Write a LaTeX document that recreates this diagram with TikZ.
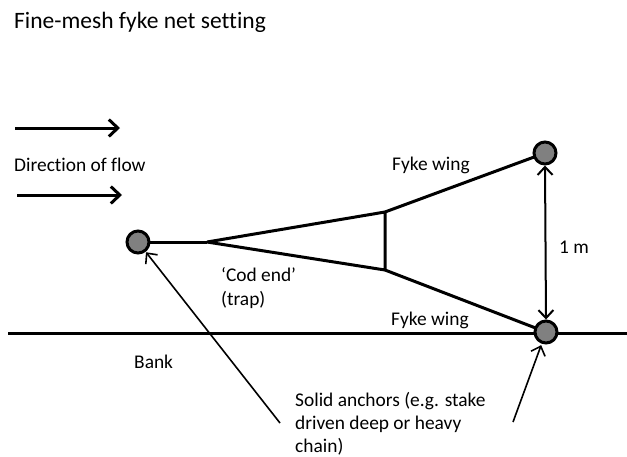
\documentclass[tikz,border=0pt]{standalone}
\usepackage{fontspec}
\setmainfont[Ligatures=NoCommon]{Carlito}
\usetikzlibrary{arrows.meta,backgrounds}
\tikzset{
  thick line/.style={line width=3pt},
  flow arrow/.style={line width=3pt,-{Straight Barb[length=9pt,width=17pt,line width=3pt]}},
  pointer/.style={line width=1.6pt,-{Straight Barb[length=8pt,width=15pt,line width=1.6pt]}},
  span arrow/.style={line width=2pt,{Straight Barb[length=8pt,width=15pt,line width=2pt]}-{Straight Barb[length=8pt,width=15pt,line width=2pt]}},
  anchorpt/.style={circle,draw,line width=3pt,fill=black!50,minimum size=22pt,inner sep=0pt},
  label text/.style={font=\fontsize{19.4}{23}\selectfont,anchor=mid west,inner sep=0pt},
}
\begin{document}
\begin{tikzpicture}[x=1pt,y=-1pt]
\useasboundingbox (0,0) rectangle (627,456);

% title
\node[font=\fontsize{23.5}{28}\selectfont,anchor=base west,inner sep=0pt] (title) at (14,28) {Fine-mesh fyke net setting};

% flow direction
\coordinate (f1a) at (15,128);
\coordinate (f1b) at (120,128);
\coordinate (f2a) at (17,195);
\coordinate (f2b) at (122,195);
\draw[flow arrow] (f1a) -- (f1b);
\draw[flow arrow] (f2a) -- (f2b);
\node[label text] (flow) at (14,169) {Direction of flow};

% anchors
\node[anchorpt] (cL) at (138,242) {};
\node[anchorpt] (cT) at (545,153) {};
\node[anchorpt] (cB) at (546,332) {};

% net geometry
\coordinate (join) at (207,242);
\coordinate (mouthT) at (385,212);
\coordinate (mouthB) at (385,270);
\coordinate (bankL) at (8,333);
\coordinate (bankR) at (627,333);

\begin{scope}[on background layer]
\draw[thick line] (bankL) -- (bankR);
\draw[thick line] (cL.center) -- (join);
\draw[thick line,line join=round] (join) -- (mouthT) -- (mouthB) -- (join);
\draw[thick line] (mouthT) -- (cT.center);
\draw[thick line] (mouthB) -- (cB.center);
\end{scope}

% 1 m spacing
\draw[span arrow] (cT.south) -- (cB.north);
\node[label text] (dist) at (559,251) {1 m};

% labels
\node[label text] (wingT) at (392,168) {Fyke wing};
\node[label text] (wingB) at (391,323) {Fyke wing};
\node[label text] (cod) at (221,279) {‘Cod end’};
\node[label text] (trap) at (221,303) {(trap)};
\node[label text] (bank) at (134,366) {Bank};
\node[label text,align=left,anchor=north west,font=\fontsize{19.4}{23}\selectfont] (solid) at (295,392) {Solid anchors (e.g. stake\\driven deep or heavy\\chain)};

% pointers to the anchors
\coordinate (p1) at (280,423);
\coordinate (p2) at (513,422);
\draw[pointer,shorten >=13pt] (p1) -- (cL.center);
\draw[pointer,shorten >=14pt] (p2) -- (cB.center);
\end{tikzpicture}
\end{document}
